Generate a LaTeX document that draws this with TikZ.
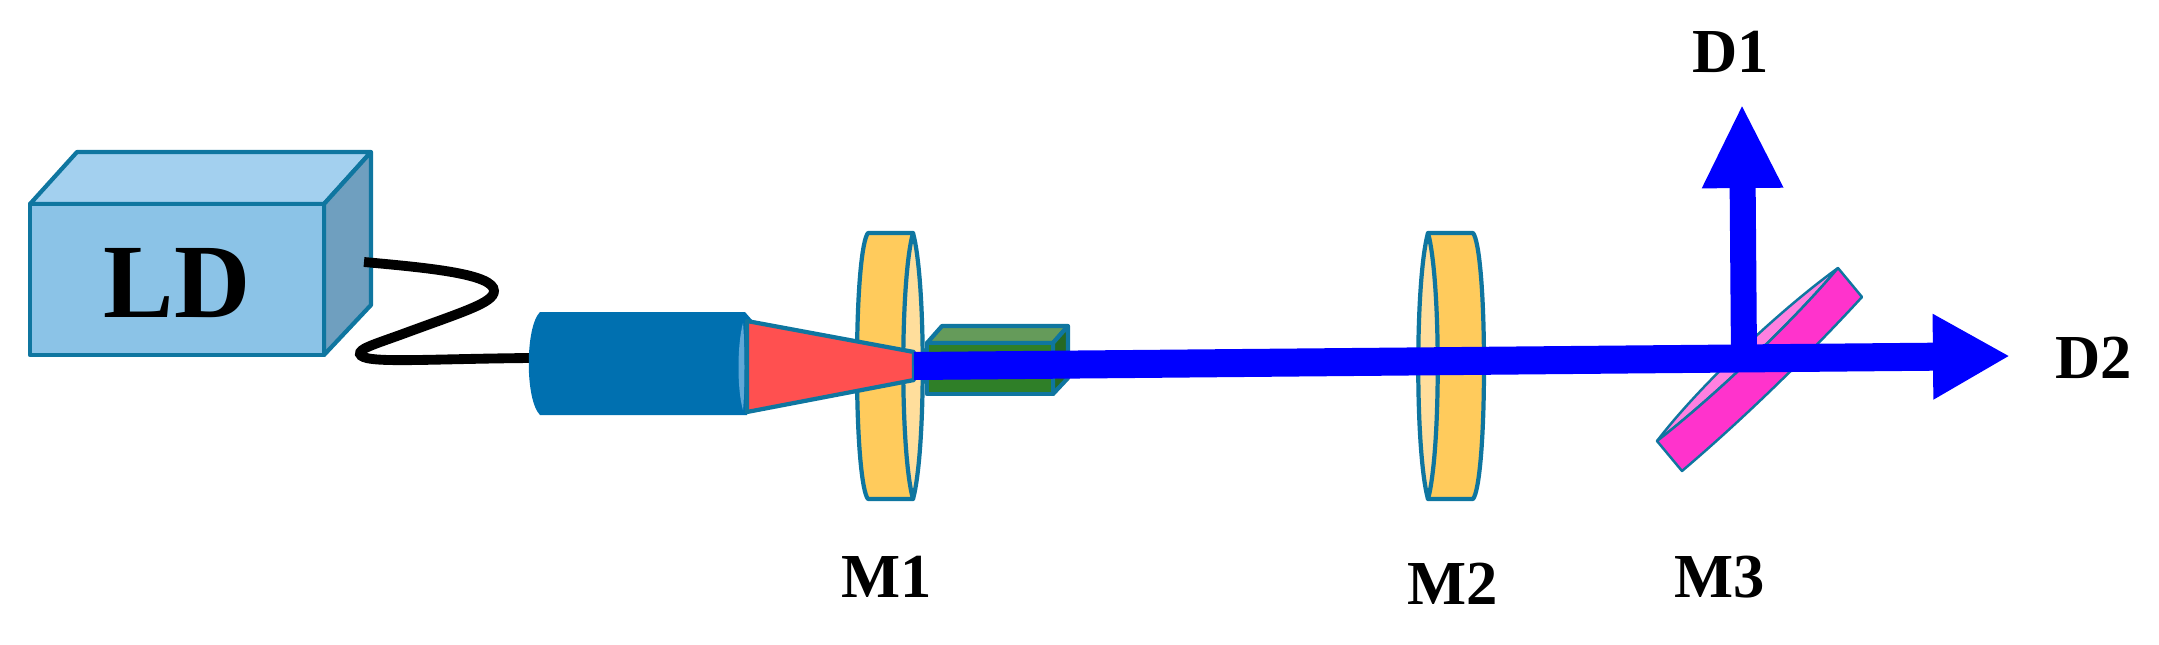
\documentclass[tikz,border=0pt]{standalone}
\usepackage{fontspec}
\setmainfont{Liberation Serif}
\usetikzlibrary{arrows.meta}
\definecolor{edgeblue}{HTML}{0F76A0}
\definecolor{lensbody}{HTML}{FFCB5C}
\definecolor{lensfront}{HTML}{FFDE9C}
\tikzset{
	part/.style={draw=edgeblue,line width=1.2pt,line join=round},
	thinpart/.style={draw=edgeblue,line width=0.7pt,line join=round},
	beam/.style={draw=blue,line width=0.28cm,-{Triangle[length=0.77cm,width=0.80cm]}},
	upbeam/.style={draw=blue,line width=0.26cm,-{Triangle[length=0.84cm,width=0.75cm]}},
	labeltext/.style={font=\bfseries\fontsize{17.8}{18}\selectfont,inner sep=0pt},
}
\begin{document}
\begin{tikzpicture}[y=-0.01cm,x=0.01cm]
	\newcommand\LensBody{(-22,233) .. controls (-28,240) and (-33,290) .. (-33,366) .. controls (-33,442) and (-28,492) .. (-22,499) -- (23,499) -- (23,233) -- cycle}
	\newcommand\LensEdge{(23,233) .. controls (36,280) and (36,452) .. (23,499) .. controls (10,452) and (10,280) .. (23,233) -- cycle}
	\newcommand\Lens{
		\draw[part,fill=lensbody] \LensBody;
		\draw[part,fill=lensfront] \LensEdge;
	}
	\useasboundingbox (0,0) rectangle (2159,645);

	% laser box
	\draw[part,fill={rgb,255:red,163;green,208;blue,239}] (30,204) -- (77,152) -- (371,152) -- (324,204) -- cycle;
	\draw[part,fill={rgb,255:red,111;green,159;blue,191}] (324,204) -- (371,152) -- (371,305) -- (324,355) -- cycle;
	\draw[part,fill={rgb,255:red,139;green,195;blue,231}] (30,204) rectangle (324,355);
	\node[font=\bfseries\fontsize{30}{30}\selectfont,inner sep=0pt] (LD) at (177,283) {LD};

	% fiber
	\coordinate (fiberstart) at (364,262);
	\coordinate (fiberend) at (530,358);
	\draw[black,line width=2.8pt] (fiberstart) .. controls (430,268) and (494,274) .. (494,291) .. controls (494,303) and (462,312) .. (400,335) .. controls (372,345) and (359,349) .. (360,354) .. controls (363,364) and (420,359) .. (fiberend);

	% lenses
	\begin{scope}[shift={(890,0)}]
		\Lens
	\end{scope}
	\begin{scope}[shift={(1451,0)},xscale=-1]
		\Lens
	\end{scope}

	% crystal
	\draw[part,fill={rgb,255:red,101;green,155;blue,90}] (927,343) -- (942,326) -- (1068,326) -- (1053,343) -- cycle;
	\draw[part,fill={rgb,255:red,38;green,105;blue,35}] (1053,343) -- (1068,326) -- (1068,378) -- (1053,394) -- cycle;
	\draw[part,fill={rgb,255:red,47;green,127;blue,40}] (927,343) rectangle (1053,394);

	% collimator
	\fill[fill={rgb,255:red,0;green,112;blue,176}] (540,312) -- (745,312) -- (752,320) -- (747,415) -- (540,415) .. controls (525,400) and (525,327) .. (540,312) -- cycle;
	\fill[fill={rgb,255:red,95;green,168;blue,216}] (743,323) .. controls (737,345) and (737,390) .. (743,410) .. controls (745,390) and (745,345) .. (743,323) -- cycle;

	% pump cone
	\draw[part,fill={rgb,255:red,255;green,80;blue,80}] (747,321) -- (914,352) -- (914,380) -- (747,412) -- cycle;

	% mirror
	\draw[thinpart,fill={rgb,255:red,255;green,128;blue,224}] (1657,441) .. controls (1700,385) and (1780,310) .. (1838,268) .. controls (1790,325) and (1710,400) .. (1657,441) -- cycle;
	\draw[thinpart,fill={rgb,255:red,255;green,51;blue,204}] (1657,441) .. controls (1710,400) and (1790,325) .. (1838,268) -- (1862,297) .. controls (1806,358) and (1742,420) .. (1682,471) -- cycle;

	% beams
	\coordinate (beamstart) at (914,366);
	\coordinate (splitpoint) at (1744,358);
	\coordinate (beamtip) at (2010,356);
	\coordinate (uptip) at (1742,104);
	\draw[beam] (beamstart) -- (beamtip);
	\draw[upbeam] (splitpoint) -- (uptip);

	\node[labeltext] (D1) at (1731,52) {D1};
	\node[labeltext] (D2) at (2094,358) {D2};
	\node[labeltext] (M1) at (887,577) {M1};
	\node[labeltext] (M2) at (1453,584) {M2};
	\node[labeltext] (M3) at (1720,577) {M3};
\end{tikzpicture}
\end{document}
